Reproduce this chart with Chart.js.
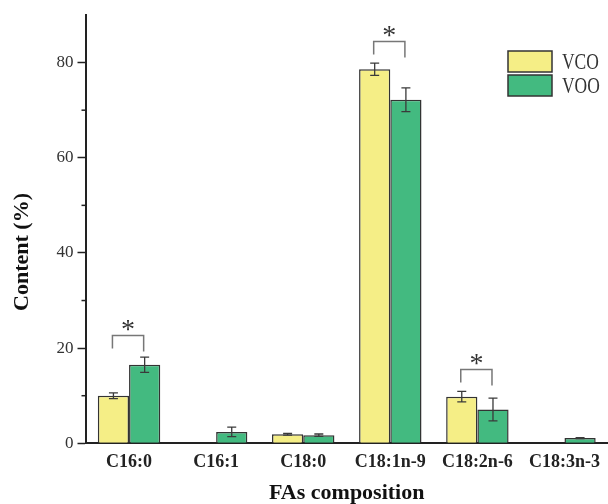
<!DOCTYPE html>
<html><head><meta charset="utf-8">
<script src="https://cdn.jsdelivr.net/npm/chart.js@4.4.1/dist/chart.umd.min.js"></script>
<style>html,body{margin:0;padding:0;background:#fff}#wrap{width:608px;height:504px;position:relative}</style>
</head><body><div id="wrap"><canvas id="c" width="608" height="504"></canvas></div>
<script>
const categories = ['C16:0', 'C16:1', 'C18:0', 'C18:1n-9', 'C18:2n-6', 'C18:3n-3'];
const seriesNames = ['VCO', 'VOO'];
const vcoValues = [10.0, null, 1.9, 78.6, 9.8, null];
const vcoErrors = [0.6, null, 0.2, 1.3, 1.1, null];
const vooValues = [16.5, 2.4, 1.7, 72.2, 7.1, 1.1];
const vooErrors = [1.6, 1.0, 0.25, 2.5, 2.4, 0.1];
const significant = ['C16:0', 'C18:1n-9', 'C18:2n-6'];
const yTickLabels = [0, 20, 40, 60, 80];
const yMinorTicks = [10, 30, 50, 70];
const yTitle = 'Content (%)';
const xTitle = 'FAs composition';

const errorSets = [vcoErrors, vooErrors];
const SERIF = "'Liberation Serif', 'Times New Roman', serif";

const extras = {
  id: 'extras',
  afterDatasetsDraw(chart) {
    const ctx = chart.ctx, ys = chart.scales.y;
    ctx.save();
    // error bars
    chart.data.datasets.forEach((ds, i) => {
      const meta = chart.getDatasetMeta(i);
      meta.data.forEach((bar, j) => {
        const v = ds.data[j], e = errorSets[i][j];
        if (v == null || e == null) return;
        const yt = ys.getPixelForValue(v + e), yb = ys.getPixelForValue(v - e);
        ctx.strokeStyle = '#3a3a3a'; ctx.lineWidth = 1.3;
        ctx.beginPath();
        ctx.moveTo(bar.x, yt); ctx.lineTo(bar.x, yb);
        ctx.moveTo(bar.x - 4.5, yt); ctx.lineTo(bar.x + 4.5, yt);
        ctx.moveTo(bar.x - 4.5, yb); ctx.lineTo(bar.x + 4.5, yb);
        ctx.stroke();
      });
    });
    // significance brackets
    const m0 = chart.getDatasetMeta(0), m1 = chart.getDatasetMeta(1);
    significant.forEach(cat => {
      const j = categories.indexOf(cat);
      const a = m0.data[j], b = m1.data[j];
      const tops = [0, 1].map(i => {
        const v = chart.data.datasets[i].data[j] || 0, e = errorSets[i][j] || 0;
        return ys.getPixelForValue(v + e);
      });
      const by = Math.round(Math.min(...tops) - 22) + 0.5;
      ctx.strokeStyle = '#777'; ctx.lineWidth = 1.5;
      ctx.beginPath();
      ctx.moveTo(a.x - 1, by + 13); ctx.lineTo(a.x - 1, by);
      ctx.lineTo(b.x - 1, by); ctx.lineTo(b.x - 1, by + 16);
      ctx.stroke();
      ctx.fillStyle = '#333';
      ctx.font = '28px ' + SERIF;
      ctx.textAlign = 'center'; ctx.textBaseline = 'alphabetic';
      ctx.fillText('*', (a.x + b.x) / 2 - 1, by + 2);
    });
    ctx.restore();
  },
  afterDraw(chart) {
    const ctx = chart.ctx, ys = chart.scales.y;
    const axX = ys.right;
    ctx.save();
    // minor ticks
    ctx.strokeStyle = '#222'; ctx.lineWidth = 1.5;
    yMinorTicks.forEach(v => {
      const p = ys.getPixelForValue(v);
      ctx.beginPath(); ctx.moveTo(axX - 4, p); ctx.lineTo(axX, p); ctx.stroke();
    });
    // y title
    ctx.translate(22, 252);
    ctx.rotate(-Math.PI / 2);
    ctx.fillStyle = '#111';
    ctx.font = 'bold 22px ' + SERIF;
    ctx.textAlign = 'center'; ctx.textBaseline = 'middle';
    ctx.fillText(yTitle, 0, 0);
    ctx.restore();
    // legend
    ctx.save();
    chart.data.datasets.forEach((ds, i) => {
      const x = 508, y = 51 + i * 24, w = 44, h = 21;
      ctx.fillStyle = ds.backgroundColor;
      ctx.fillRect(x, y, w, h);
      ctx.strokeStyle = '#333'; ctx.lineWidth = 1.5;
      ctx.strokeRect(x, y, w, h);
      ctx.save();
      ctx.translate(562, y + h / 2 + 1);
      ctx.scale(0.76, 1);
      ctx.fillStyle = '#333';
      ctx.font = '23px ' + SERIF;
      ctx.textAlign = 'left'; ctx.textBaseline = 'middle';
      ctx.fillText(ds.label, 0, 0);
      ctx.restore();
    });
    ctx.restore();
  }
};

new Chart(document.getElementById('c'), {
  type: 'bar',
  data: {
    labels: categories,
    datasets: [
      { label: seriesNames[0], data: vcoValues, backgroundColor: '#F5EE86', borderColor: '#333', borderWidth: 1.5,
        categoryPercentage: 0.717, barPercentage: 1.0 },
      { label: seriesNames[1], data: vooValues, backgroundColor: '#43BA80', borderColor: '#333', borderWidth: 1.5,
        categoryPercentage: 0.717, barPercentage: 1.0 }
    ]
  },
  options: {
    responsive: false,
    animation: false,
    devicePixelRatio: 1,
    layout: { padding: { top: 15, left: 0, right: 0, bottom: 0 } },
    plugins: { legend: { display: false }, tooltip: { enabled: false } },
    scales: {
      x: {
        afterFit(s) { s.height = 60.7; },
        border: { color: '#222', width: 2 },
        grid: { display: false, drawTicks: false },
        ticks: { color: '#222', padding: 8, font: { family: SERIF, size: 18, weight: 'bold' } },
        title: { display: true, text: xTitle, color: '#111', padding: 0,
          font: { family: SERIF, size: 22, weight: 'bold', lineHeight: 1 } }
      },
      y: {
        min: 0, max: 90,
        afterFit(s) { s.width = 85.5; },
        border: { color: '#222', width: 2 },
        grid: { drawOnChartArea: false, drawTicks: true, tickLength: 8, tickWidth: 1.5,
          tickColor: c => (c.tick && yTickLabels.includes(c.tick.value)) ? '#222' : 'rgba(0,0,0,0)' },
        ticks: { stepSize: 10, padding: 4, color: '#333', font: { family: SERIF, size: 17 },
          callback: v => yTickLabels.includes(v) ? String(v) : '' }
      }
    }
  },
  plugins: [extras]
});
</script>
</body></html>
